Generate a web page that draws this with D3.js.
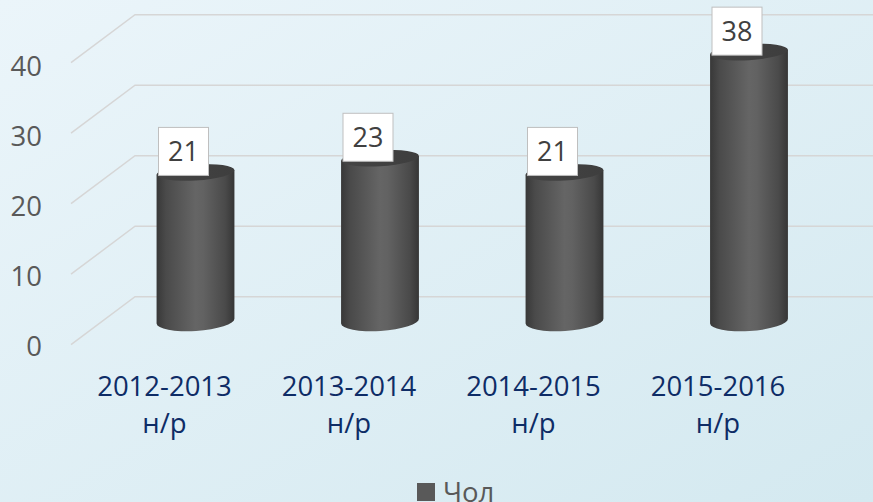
<!DOCTYPE html>
<html>
<head>
<meta charset="utf-8">
<script src="https://cdn.jsdelivr.net/npm/d3@7"></script>
<style>
  html, body { margin: 0; padding: 0; overflow: hidden; }
  svg { display: block; }
</style>
</head>
<body>
<script>
const categories = ["2012-2013 н/р", "2013-2014 н/р", "2014-2015 н/р", "2015-2016 н/р"];
const values = [21, 23, 21, 38];
const yTicks = [0, 10, 20, 30, 40];
const seriesName = "Чол";

const W = 873, H = 502;
const svg = d3.select("body").append("svg").attr("width", W).attr("height", H);
const defs = svg.append("defs");

const bg = defs.append("linearGradient").attr("id", "bg")
  .attr("x1", "0%").attr("y1", "0%").attr("x2", "100%").attr("y2", "100%");
bg.append("stop").attr("offset", "0%").attr("stop-color", "#EBF5FA");
bg.append("stop").attr("offset", "100%").attr("stop-color", "#D4E9F0");
svg.append("rect").attr("width", W).attr("height", H).attr("fill", "url(#bg)");

const body = defs.append("linearGradient").attr("id", "cyl")
  .attr("x1", "0%").attr("y1", "0%").attr("x2", "100%").attr("y2", "0%");
[[0, "#383838"], [0.12, "#4a4a4a"], [0.5, "#656565"], [0.6, "#626262"], [0.88, "#4a4a4a"], [1, "#363636"]]
  .forEach(([o, c]) => body.append("stop").attr("offset", o).attr("stop-color", c));
const topG = defs.append("linearGradient").attr("id", "cyltop")
  .attr("x1", "0%").attr("y1", "0%").attr("x2", "100%").attr("y2", "0%");
topG.append("stop").attr("offset", "0%").attr("stop-color", "#444444");
topG.append("stop").attr("offset", "100%").attr("stop-color", "#3e3e3e");

// scales
const yBack = d3.scaleLinear().domain([0, 40]).range([296.7, 14.7]);
const depthX = 64, depthY = 48, frontX = 71;
const yLabel = d3.scaleLinear().domain([0, 40]).range([356, 76]);
const yBar = d3.scaleLinear().domain([0, 40]).range([321, 38]);
const x = d3.scalePoint().domain(categories).range([103.25, 841.25]).padding(0.5);
const barW = 78;

// gridlines
const grid = svg.append("g");
yTicks.forEach(t => {
  grid.append("path")
    .attr("d", `M${frontX},${yBack(t) + depthY}L${frontX + depthX},${yBack(t)}L${W},${yBack(t)}`)
    .attr("fill", "none").attr("stroke", "#D6D6D6").attr("stroke-width", 1.5);
});

// y labels
svg.append("g").selectAll("text").data(yTicks).join("text")
  .attr("x", 42).attr("y", d => yLabel(d))
  .attr("text-anchor", "end")
  .attr("font-family", "Open Sans").attr("font-size", 27.5).attr("fill", "#595959")
  .text(d => d);

// cylinders
const bars = svg.append("g");
const tilt = -3.5;
categories.forEach((c, i) => {
  const cx = x(c), v = values[i];
  const yt = yBar(v), yb = yBar(0);
  const rxT = barW / 2, ryT = 8, ryB = 10;
  const g = bars.append("g");
  // body: from top ellipse center line to bottom ellipse front arc
  const a = tilt * Math.PI / 180;
  const lx = cx - rxT * Math.cos(a), rx = cx + rxT * Math.cos(a);
  const ly = -rxT * Math.sin(a), ry = rxT * Math.sin(a);
  g.append("path")
    .attr("d", `M${lx},${yt + ly}L${lx},${yb + ly}A${rxT},${ryB} ${tilt} 0 0 ${rx},${yb + ry}L${rx},${yt + ry}Z`)
    .attr("fill", "url(#cyl)");
  g.append("ellipse")
    .attr("cx", cx).attr("cy", yt).attr("rx", rxT).attr("ry", ryT)
    .attr("transform", `rotate(${tilt},${cx},${yt})`)
    .attr("fill", "url(#cyltop)");
});

// data labels
const lbl = svg.append("g");
categories.forEach((c, i) => {
  const cx = x(c) - 12, yt = yBar(values[i]);
  lbl.append("rect")
    .attr("x", cx - 25).attr("y", yt + 3 - 48).attr("width", 50).attr("height", 48)
    .attr("fill", "#FFFFFF").attr("stroke", "#BFBFBF").attr("stroke-width", 1);
  lbl.append("text")
    .attr("x", cx).attr("y", yt + 3 - 14)
    .attr("text-anchor", "middle")
    .attr("font-family", "Open Sans").attr("font-size", 27).attr("fill", "#404040")
    .text(values[i]);
});

// category labels
const cat = svg.append("g");
categories.forEach(c => {
  const parts = c.split(" ");
  const t = cat.append("text")
    .attr("text-anchor", "middle")
    .attr("font-family", "Open Sans").attr("font-size", 27.5).attr("fill", "#0E2C66");
  parts.forEach((p, j) => {
    t.append("tspan").attr("x", x(c) - 31).attr("y", 396 + j * 37).text(p);
  });
});

// legend
svg.append("rect").attr("x", 417).attr("y", 483).attr("width", 18).attr("height", 18).attr("fill", "#595959");
svg.append("text").attr("x", 443).attr("y", 502)
  .attr("font-family", "Open Sans").attr("font-size", 27.5).attr("fill", "#595959")
  .text(seriesName);
</script>
</body>
</html>
